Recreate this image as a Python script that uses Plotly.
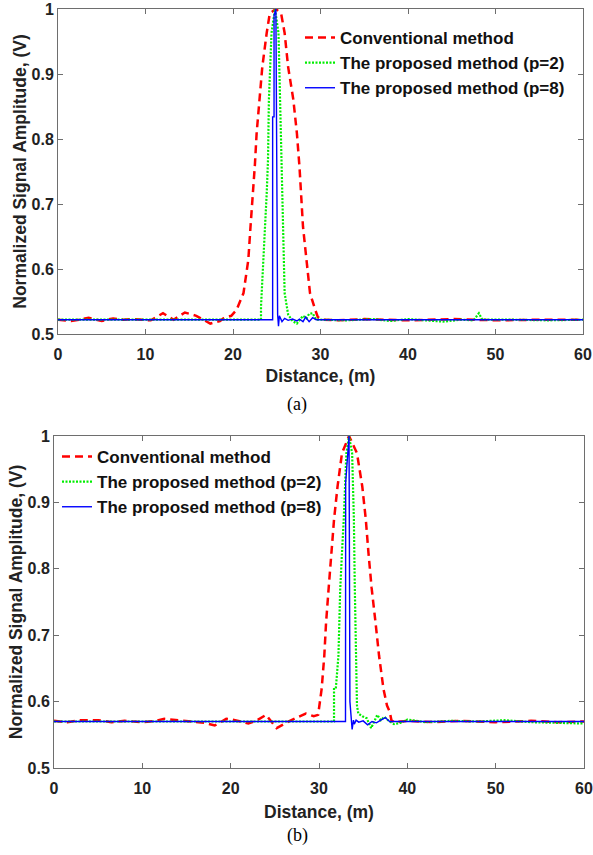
import plotly.graph_objects as go

# ---------------- (a) ----------------
a_conv_x = [0, 1.5, 2.5, 3.5, 5, 6.3, 7.5, 8.5, 10.6, 12, 13.2, 14.5, 15.8, 17.4, 18.5, 18.9, 19.8,
            20.4, 21.2, 21.75, 22.0, 22.3, 22.5, 22.7, 23.0, 23.35, 23.85, 24.2, 24.9,
            25.5, 25.9, 26.3, 26.9, 27.3, 27.6, 27.75, 28.0, 28.4, 28.8, 29.4, 29.7, 30.2,
            32, 35, 40, 45, 50, 55, 60]
a_conv_y = [0.522, 0.520, 0.522, 0.525, 0.520, 0.524, 0.522, 0.523, 0.521, 0.532, 0.522, 0.533, 0.528, 0.516, 0.520, 0.524, 0.528,
            0.537, 0.563, 0.614, 0.665, 0.716, 0.760, 0.809, 0.860, 0.911, 0.963, 0.993, 1.0,
            0.993, 0.963, 0.911, 0.860, 0.809, 0.757, 0.716, 0.665, 0.614, 0.563, 0.537, 0.526, 0.522,
            0.521, 0.523, 0.521, 0.523, 0.521, 0.522, 0.522]

a_p2_x = [0, 5, 10, 15, 20, 23.2, 23.2, 23.5, 23.85, 24.0, 24.1, 24.4, 24.8,
          25.2, 25.4, 25.55, 25.7, 25.9, 26.3, 26.8, 27.3, 27.6, 28.0, 28.4, 28.7, 29.1, 29.5, 30,
          33, 36, 38, 40, 42, 44, 46, 47.5, 48.1, 48.5, 52, 56, 60]
a_p2_y = [0.522, 0.522, 0.522, 0.522, 0.522, 0.522, 0.542, 0.614, 0.716, 0.768, 0.860, 0.963, 1.0,
          0.963, 0.860, 0.757, 0.665, 0.563, 0.530, 0.520, 0.516, 0.522, 0.528, 0.524, 0.531, 0.532, 0.522, 0.522,
          0.521, 0.523, 0.520, 0.523, 0.521, 0.519, 0.522, 0.521, 0.532, 0.522, 0.522, 0.521, 0.522]

a_p8_x = [0, 10, 20, 24.53, 24.53, 24.69, 24.69, 24.9, 25.1, 25.2, 25.3, 25.6, 25.9, 26.3, 26.8,
          27.3, 27.6, 28.0, 28.3, 28.7, 29.1, 29.5, 30, 40, 50, 60]
a_p8_y = [0.522, 0.522, 0.522, 0.522, 0.834, 0.834, 0.99, 1.0, 0.53, 0.512, 0.528, 0.519, 0.524, 0.521, 0.523,
          0.520, 0.523, 0.519, 0.526, 0.519, 0.525, 0.522, 0.522, 0.522, 0.522, 0.522]

# ---------------- (b) ----------------
b_conv_x = [0, 1.5, 3, 5, 6.5, 8, 10, 11.5, 12.5, 14, 15.5, 17, 18.2, 19.5, 20.5, 22, 23, 24, 25.2, 26.7,
            28.5, 29.4, 29.9, 30.0, 30.3, 30.6, 30.8, 31.1, 31.4, 31.7, 32.1, 32.6, 33.4,
            34.3, 34.9, 35.3, 35.6, 35.95, 36.4, 36.8, 37.3, 37.7, 38.0, 38.2, 38.5,
            40, 43, 46, 50, 54, 57, 60]
b_conv_y = [0.571, 0.569, 0.572, 0.572, 0.569, 0.571, 0.569, 0.571, 0.574, 0.572, 0.571, 0.568, 0.564, 0.574, 0.572, 0.567, 0.572, 0.580, 0.560, 0.571,
            0.582, 0.578, 0.580, 0.592, 0.619, 0.669, 0.719, 0.772, 0.824, 0.874, 0.924, 0.974, 1.0,
            0.974, 0.924, 0.874, 0.824, 0.772, 0.719, 0.669, 0.619, 0.594, 0.585, 0.572, 0.569,
            0.571, 0.569, 0.571, 0.569, 0.571, 0.569, 0.570]

b_p2_x = [0, 10, 20, 31.7, 31.7, 31.9, 32.2, 32.4, 32.6, 32.8, 33.1, 33.4,
          33.75, 33.95, 34.05, 34.2, 34.3, 34.45, 34.9, 35.4, 35.9, 36.6, 37.0, 37.4, 37.9, 38.5, 39.2,
          40, 42, 45, 48, 51, 54, 57, 60]
b_p2_y = [0.570, 0.570, 0.570, 0.570, 0.619, 0.619, 0.669, 0.769, 0.824, 0.874, 0.974, 1.0,
          0.974, 0.874, 0.774, 0.669, 0.594, 0.582, 0.578, 0.575, 0.560, 0.580, 0.572, 0.577, 0.571, 0.566, 0.568,
          0.573, 0.569, 0.571, 0.570, 0.572, 0.569, 0.568, 0.567]

b_p8_x = [0, 10, 20, 33.0, 33.02, 33.3, 33.4, 33.5, 33.6, 33.75, 33.9, 34.0, 34.2, 34.5, 35, 35.5,
          36, 36.5, 37, 37.5, 38, 38.3, 40, 50, 60]
b_p8_y = [0.570, 0.570, 0.570, 0.570, 0.930, 0.990, 1.0, 0.600, 0.578, 0.558, 0.572, 0.566, 0.572, 0.569, 0.571, 0.565,
          0.570, 0.568, 0.572, 0.576, 0.570, 0.570, 0.570, 0.570, 0.570]

names = ["Conventional method", "The proposed method (p=2)", "The proposed method (p=8)"]
x_ticks = [0, 10, 20, 30, 40, 50, 60]
y_ticks = [0.5, 0.6, 0.7, 0.8, 0.9, 1.0]
y_ticktext = ["0.5", "0.6", "0.7", "0.8", "0.9", "1"]

W, H = 593, 855
SANS = "Liberation Sans, Arial, sans-serif"
SERIF = "Liberation Serif, Times New Roman, serif"

styles = [
    dict(color="#FF0000", width=2.5, dash="8px,5px"),
    dict(color="#00EE00", width=2.2, dash="2px,1.5px"),
    dict(color="#0000FF", width=1.4, dash="solid"),
]

fig = go.Figure()

panels = [
    ("x", "y", "legend", [(a_conv_x, a_conv_y), (a_p2_x, a_p2_y), (a_p8_x, a_p8_y)]),
    ("x2", "y2", "legend2", [(b_conv_x, b_conv_y), (b_p2_x, b_p2_y), (b_p8_x, b_p8_y)]),
]
for xa, ya, lg, series in panels:
    for (sx, sy), nm, st in zip(series, names, styles):
        fig.add_trace(go.Scatter(x=sx, y=sy, mode="lines", name=nm, line=st,
                                 xaxis=xa, yaxis=ya, legend=lg))

def px_x(p):
    return p / W

def px_y(p):
    return 1 - p / H

axis_common = dict(
    showline=True, mirror="ticks", linecolor="#6e6e6e", linewidth=1,
    ticks="inside", ticklen=5, tickcolor="#6e6e6e", tickwidth=1,
    showgrid=False, zeroline=False,
    tickfont=dict(family=SANS, size=16, color="#222", weight="bold"),
    automargin=False, ticklabeloverflow="allow",
)
xaxis_extra = dict(ticklabelstandoff=6)
title_font = dict(family=SANS, size=17.5, color="#222", weight="bold")
legend_font = dict(family=SANS, size=17, color="#111", weight="bold")

fig.update_layout(
    width=W, height=H,
    margin=dict(l=0, r=0, t=0, b=0),
    paper_bgcolor="white", plot_bgcolor="white",
    xaxis=dict(domain=[px_x(58), px_x(583)], range=[0, 60], tickvals=x_ticks, anchor="y",
               title=dict(text="Distance, (m)", font=title_font, standoff=7), **axis_common, **xaxis_extra),
    yaxis=dict(domain=[px_y(334), px_y(9)], range=[0.5, 1.0], tickvals=y_ticks, ticktext=y_ticktext, anchor="x",
               title=dict(text="Normalized Signal Amplitude, (V)", font=title_font, standoff=0), **axis_common),
    xaxis2=dict(domain=[px_x(54), px_x(584)], range=[0, 60], tickvals=x_ticks, anchor="y2",
                title=dict(text="Distance, (m)", font=title_font, standoff=9), **axis_common, **xaxis_extra),
    yaxis2=dict(domain=[px_y(768), px_y(436)], range=[0.5, 1.0], tickvals=y_ticks, ticktext=y_ticktext, anchor="x2",
                title=dict(text="Normalized Signal Amplitude, (V)", font=title_font, standoff=0), **axis_common),
    legend=dict(x=px_x(300), y=px_y(20), xanchor="left", yanchor="top", bgcolor="rgba(0,0,0,0)",
                font=legend_font, itemwidth=30, tracegroupgap=0),
    legend2=dict(x=px_x(57), y=px_y(439), xanchor="left", yanchor="top", bgcolor="rgba(0,0,0,0)",
                 font=legend_font, itemwidth=30, tracegroupgap=0),
    showlegend=True,
    annotations=[
        dict(text="(a)", x=px_x(297), y=px_y(405), xref="paper", yref="paper", showarrow=False,
             yanchor="middle", font=dict(family=SERIF, size=18, color="#000")),
        dict(text="(b)", x=px_x(297), y=px_y(835), xref="paper", yref="paper", showarrow=False,
             yanchor="middle", font=dict(family=SERIF, size=18, color="#000")),
    ],
)

fig.write_html("out.html")
